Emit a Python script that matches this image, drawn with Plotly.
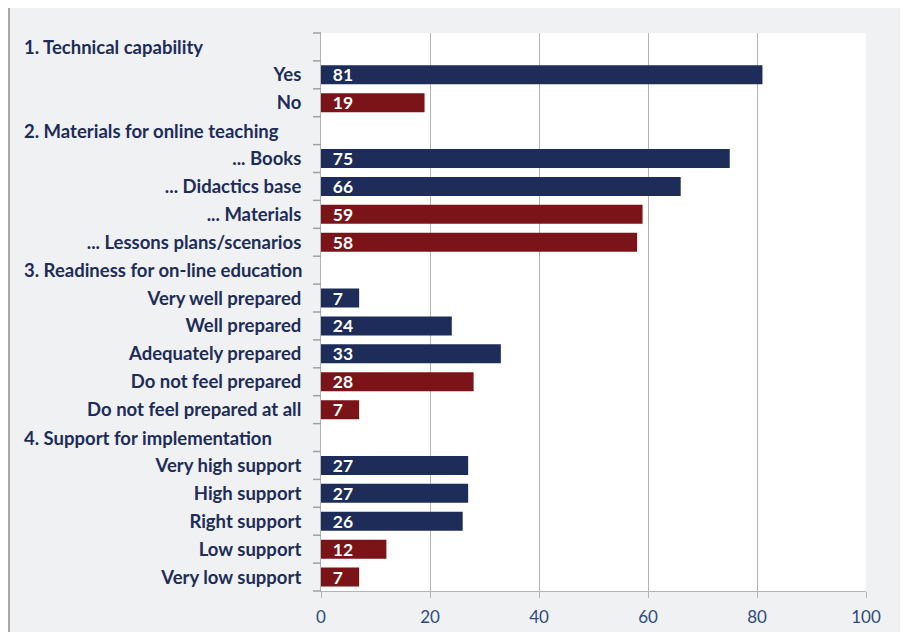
import plotly.graph_objects as go

categories = [
    "1. Technical capability", "Yes", "No",
    "2. Materials for online teaching", "... Books", "... Didactics base", "... Materials", "... Lessons plans/scenarios",
    "3. Readiness for on-line education", "Very well prepared", "Well prepared", "Adequately prepared",
    "Do not feel prepared", "Do not feel prepared at all",
    "4. Support for implementation", "Very high support", "High support", "Right support",
    "Low support", "Very low support",
]
values = [None, 81, 19, None, 75, 66, 59, 58, None, 7, 24, 33, 28, 7, None, 27, 27, 26, 12, 7]
is_header = [True, False, False, True, False, False, False, False, True, False, False, False, False, False,
             True, False, False, False, False, False]
is_positive = [None, True, False, None, True, True, False, False, None, True, True, True, False, False,
               None, True, True, True, False, False]
x_ticks = [0, 20, 40, 60, 80, 100]

NAVY = "#1d2c58"
RED = "#7b1419"
colors = [NAVY if p else RED for p in is_positive]
texts = ["" if v is None else "\u2002" + str(v) for v in values]
ticktext = ["" if h else c for c, h in zip(categories, is_header)]
n = len(categories)

W, H = 908, 632
L, T = 313, 25
PW, PH = 545, 558
R = W - L - PW
B = H - T - PH

fig = go.Figure(go.Bar(
    x=values, y=categories, orientation="h",
    marker=dict(color=colors, line=dict(width=0)),
    text=texts, textposition="inside", insidetextanchor="start", textangle=0,
    textfont=dict(color="white", size=17.5, family="Lato", weight="bold"),
    constraintext="none", cliponaxis=False,
))

fig.update_layout(
    width=W, height=H,
    margin=dict(l=L, r=R, t=T, b=B, autoexpand=False),
    paper_bgcolor="#f0f1f3", plot_bgcolor="white",
    bargap=0.32, showlegend=False,
    font=dict(family="Lato", color=NAVY),
)
fig.update_xaxes(
    range=[0, 100], tickvals=x_ticks, showgrid=True, gridcolor="#b4b4b4", gridwidth=1,
    showline=True, linecolor="#b4b4b4", linewidth=1,
    ticks="outside", ticklen=6, tickcolor="#b4b4b4",
    ticklabelstandoff=5,
    tickfont=dict(size=17, color="#2f4a7c", family="Lato"), zeroline=False, fixedrange=True,
    automargin=False,
)
fig.update_yaxes(
    type="category", categoryorder="array", categoryarray=categories,
    autorange="reversed", tickvals=categories, ticktext=ticktext,
    ticks="", ticklabelstandoff=15,
    showline=True, linecolor="#b4b4b4", linewidth=1,
    tickfont=dict(size=18.5, color=NAVY, family="Lato", weight="bold"),
    showgrid=False, automargin=False,
)

# tick marks on the category boundaries of the y axis (paper coords, unclipped)
for i in range(n + 1):
    yb = 1 - i / n
    fig.add_shape(type="line", xref="paper", yref="paper",
                  x0=-8 / PW, x1=0, y0=yb, y1=yb,
                  line=dict(color="#a0a0a0", width=1.5), layer="above")

for c, h in zip(categories, is_header):
    if h:
        fig.add_annotation(
            x=(14 - L) / PW, xref="paper", y=c, yref="y", xanchor="left", yanchor="middle",
            text=c, showarrow=False,
            font=dict(size=18.5, color=NAVY, family="Lato", weight="bold"),
        )

fig.add_shape(type="line", xref="paper", yref="paper",
              x0=(1 - L) / PW, x1=(1 - L) / PW, y0=-B / PH, y1=(PH + T) / PH,
              line=dict(color="#a8a8a8", width=2))

fig.write_html("out.html")
